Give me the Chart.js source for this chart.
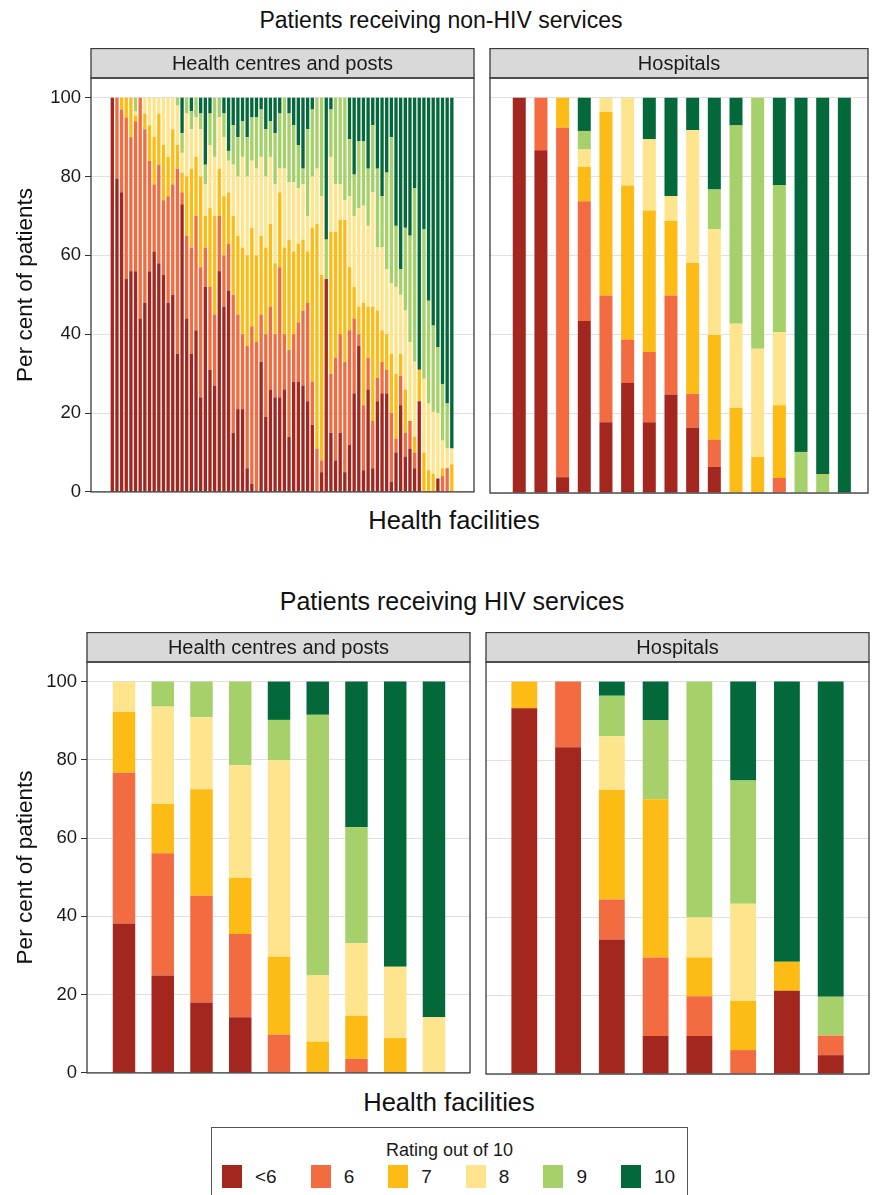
<!DOCTYPE html>
<html>
<head>
<meta charset="utf-8">
<script src="https://cdn.jsdelivr.net/npm/chart.js@4.4.1/dist/chart.umd.min.js"></script>
<style>
html,body{margin:0;padding:0;background:#fff;overflow:hidden;width:876px;height:1195px;}
body{position:relative;font-family:"Liberation Sans",Arial,Helvetica,sans-serif;color:#111;}
.t{position:absolute;white-space:nowrap;transform:translate(-50%,-50%);line-height:1;}
canvas{position:absolute;}
#legend{position:absolute;left:211px;top:1127px;width:477px;height:80px;border:1px solid #555;box-sizing:border-box;}
#legTitle{position:absolute;left:0;right:0;top:12px;text-align:center;font-size:18px;color:#1a1a1a;}
#legRow{position:absolute;left:10px;top:37px;display:flex;align-items:center;}
.key{width:20px;height:23px;margin-right:13px;box-sizing:border-box;}
.lab{font-size:19px;color:#1a1a1a;margin-right:34px;line-height:23px;}
</style>
</head>
<body>
<div class="t" style="left:441px;top:20px;font-size:23px">Patients receiving non-HIV services</div>
<div class="t" style="left:454px;top:521px;font-size:25.5px">Health facilities</div>
<div class="t" style="left:452px;top:601px;font-size:25px">Patients receiving HIV services</div>
<div class="t" style="left:449px;top:1103px;font-size:25.5px">Health facilities</div>

<canvas id="c1" width="480" height="459" style="left:0px;top:48px"></canvas>
<canvas id="c2" width="392" height="459" style="left:484px;top:48px"></canvas>
<canvas id="c3" width="476" height="456" style="left:0px;top:632px"></canvas>
<canvas id="c4" width="396" height="456" style="left:480px;top:632px"></canvas>

<div id="legend"><div id="legTitle">Rating out of 10</div><div id="legRow"></div></div>

<script>
// ---------- DATA ----------
const ratingLabels = ['<6', '6', '7', '8', '9', '10'];
const yTickValues = [0, 20, 40, 60, 80, 100];
const facetTitles = ['Health centres and posts', 'Hospitals'];

// Non-HIV services, health centres and posts (74 facilities), % of patients per rating
const ncLt6 = [100,79.5,76,54,56,56,44,48,56,61, 58,55,48,50,35,73,44,35,41,24, 52,31,27,56,47,51,15,21,21,6, 2,0,33,19,26,24,24,26,14,28, 28,27,23,17,0,5,54,15,8,15, 5,12,25,37,5.5,26,6,23,25,25, 2.5,10,22,9,11,6,23,0,0,0, 3.4,0,0,0];
const nc6   = [0,20.5,21,41,34,38,56,44,28,17, 25,19,27,28,47,3,21,27,29,33, 10,21,18,14,13,12,35,24,19,31, 40,38,12,21,21,16,33,14,22,12, 15,19,25,11,11,3,0,15,26,25, 28,29,19,3,16.5,8,12,6,8,6, 17.5,3.5,7.5,6,7,4,0,0,0,0, 0,4,6,0];
const nc7   = [0,0,3,5,10,1.5,0,4,9,12, 13,14,10,14,6,5,15,20,15,23, 8,20,25,12,15,13,20,20,22,23, 25,22,20,22,21,18,19,22,28,21, 20,18,13,39,57,47,0,36,32,29, 36,16,8,7,26,13,29,17,8,9, 15,16.5,5.5,11,0,4,8,10,5.5,4.6, 0,2,0,7];
const nc8   = [0,0,0,0,0,1,0,4,7,10, 4,12,15,8,10,5,16,10,10,12, 8,16,15,13,15,8,13,15,23,20, 17,22,20,18,17,20,6,20,14.5,17.5, 14,14,9,13,14,20,0,19,12,9, 5,18,18,25,24.6,20.5,29,16,21,16.5, 18,22,15,20,20,19,0,18.7,16.9,15.7, 16.6,7,5,4];
const nc9   = [0,0,0,0,0,3.5,0,0,0,0, 0,0,0,0,2,5,4,4.6,5,4, 5,8,15,5,6,2.5,10,10,9,10, 11,13,12,12,9,13,14,18,17.5,14.5, 11,4,22,17,18,25,10,12,22,22, 26,14.5,10.5,17,16.4,14.5,17,20,13,24.5, 37,15.5,6.5,21,27,44,0,38,26.1,21.9, 16.7,14.4,11.4,0];
const nc10  = [0,0,0,0,0,0,0,0,0,0, 0,0,0,0,0,9,0,3.4,0,4, 17,4,0,0,4,13.5,7,10,6,10, 5,5,3,8,6,9,4,0,4,7, 12,18,8,3,0,0,36,3,0,0, 0,10.5,19.5,11,11,18,7,18,25,19, 10,32.5,43.5,33,35,23,69,33.3,51.5,57.8, 63.3,72.6,77.6,89];

// Non-HIV services, hospitals (16 facilities)
const nhLt6 = [100,86.7,4,43.5,17.9,27.8,17.9,24.9,16.6,6.6,0,0,0,0,0,0];
const nh6   = [0,13.3,88.4,30.3,32.1,11,17.8,25.1,8.5,6.9,0,0,3.8,0,0,0];
const nh7   = [0,0,7.6,8.7,46.4,39,35.8,18.8,33.1,26.5,21.5,9.1,18.4,0,0,0];
const nh8   = [0,0,0,4.4,3.6,22.2,18,6.3,33.6,26.7,21.3,27.4,18.5,0,0,0];
const nh9   = [0,0,0,4.7,0,0,0,0,0,10.1,50.2,63.5,37.2,10.4,4.8,0];
const nh10  = [0,0,0,8.4,0,0,10.5,24.9,8.2,23.2,7,0,22.1,89.6,95.2,100];

// HIV services, health centres and posts (9 facilities)
const hcLt6 = [38.2,24.9,18,14.2,0,0,0,0,0];
const hc6   = [38.5,31.2,27.3,21.3,9.8,0,3.6,0,0];
const hc7   = [15.5,12.6,27.2,14.3,19.9,8,11,8.9,0];
const hc8   = [7.8,24.9,18.4,28.8,50.2,16.9,18.5,18.2,14.2];
const hc9   = [0,6.4,9.1,21.4,10.3,66.6,29.7,0,0];
const hc10  = [0,0,0,0,9.8,8.5,37.2,72.9,85.8];

// HIV services, hospitals (8 facilities)
const hhLt6 = [93.2,83.3,34.3,9.7,9.7,0,21.2,4.8];
const hh6   = [0,16.7,10.2,20,10.1,6.1,0,5];
const hh7   = [6.8,0,27.9,40.3,9.9,12.5,7.4,0];
const hh8   = [0,0,13.7,0,10.2,24.8,0,0];
const hh9   = [0,0,10.3,20.2,60.1,31.4,0,9.9];
const hh10  = [0,0,3.6,9.8,0,25.2,71.4,80.3];

// ---------- STYLE ----------
const ratingColors = ['#a4271f', '#f36c41', '#fdbb15', '#fee48c', '#a6d06a', '#04693a'];
const FONT = '"Liberation Sans", Arial, Helvetica, sans-serif';
Chart.defaults.font.family = FONT;

const panels = [
  {id:'c1', title:facetTitles[0], series:[ncLt6,nc6,nc7,nc8,nc9,nc10], xMin:-3.58, xMax:78.77, barPct:0.72, yAxis:true,  yWidth:91, pad:{top:30,right:6,bottom:14,left:0}},
  {id:'c2', title:facetTitles[1], series:[nhLt6,nh6,nh7,nh8,nh9,nh10], xMin:-0.35, xMax:17.09, barPct:0.6, yAxis:false, yWidth:0,  pad:{top:30,right:8,bottom:14,left:6}},
  {id:'c3', title:facetTitles[0], series:[hcLt6,hc6,hc7,hc8,hc9,hc10], xMin:0.045, xMax:9.93, barPct:0.58, yAxis:true,  yWidth:87, pad:{top:30,right:6,bottom:14,left:0}},
  {id:'c4', title:facetTitles[1], series:[hhLt6,hh6,hh7,hh8,hh9,hh10], xMin:0.125, xMax:8.875, barPct:0.59, yAxis:false, yWidth:0,  pad:{top:30,right:7,bottom:14,left:6}}
];

const STRIP_H = 29.5;
const panelPlugin = {
  id: 'panelFrame',
  afterDatasetsDraw(chart, args, opts) {
    const {ctx, chartArea: a} = chart;
    ctx.save();
    const w = a.right - a.left;
    ctx.fillStyle = '#d9d9d9';
    ctx.fillRect(a.left, a.top - STRIP_H, w, STRIP_H);
    ctx.strokeStyle = '#3a3a3a';
    ctx.lineWidth = 1.3;
    ctx.strokeRect(a.left, a.top - STRIP_H, w, STRIP_H);
    ctx.strokeRect(a.left, a.top, w, a.bottom - a.top);
    ctx.fillStyle = '#1a1a1a';
    ctx.font = '20px ' + FONT;
    ctx.textAlign = 'center';
    ctx.textBaseline = 'middle';
    ctx.fillText(opts.text, (a.left + a.right) / 2, a.top - STRIP_H / 2 + 1);
    ctx.restore();
  }
};

function makeChart(p) {
  const datasets = p.series.map((vals, k) => ({
    label: ratingLabels[k],
    data: vals.map((v, i) => ({x: i + 1, y: v})),
    backgroundColor: ratingColors[k],
    borderWidth: 0,
    barPercentage: p.barPct,
    categoryPercentage: 1,
    stack: 's'
  }));
  new Chart(document.getElementById(p.id), {
    type: 'bar',
    data: {datasets},
    options: {
      responsive: false,
      animation: false,
      devicePixelRatio: 1,
      layout: {padding: p.pad},
      plugins: {legend: {display: false}, tooltip: {enabled: false}, panelFrame: {text: p.title}},
      scales: {
        x: {type: 'linear', stacked: true, min: p.xMin, max: p.xMax, display: false, offset: false},
        y: {
          type: 'linear', stacked: true, min: 0, max: 105,
          afterBuildTicks: s => { s.ticks = yTickValues.map(v => ({value: v})); },
          afterFit: s => { s.width = p.yWidth; },
          ticks: {display: p.yAxis, font: {size: 18.5}, color: '#1a1a1a', padding: 4},
          grid: {color: '#e0e0e0', lineWidth: 1, drawTicks: p.yAxis, tickLength: 6, tickColor: '#333', tickWidth: 1},
          border: {display: false},
          title: {display: p.yAxis, text: 'Per cent of patients', font: {size: 22.5}, color: '#111', padding: {top: 12, bottom: 0}}
        }
      }
    },
    plugins: [panelPlugin]
  });
}
panels.forEach(makeChart);

// legend
const row = document.getElementById('legRow');
ratingLabels.forEach((lab, k) => {
  const key = document.createElement('div');
  key.className = 'key';
  key.style.background = ratingColors[k];
  const t = document.createElement('div');
  t.className = 'lab';
  t.textContent = lab;
  row.appendChild(key); row.appendChild(t);
});
</script>
</body>
</html>
